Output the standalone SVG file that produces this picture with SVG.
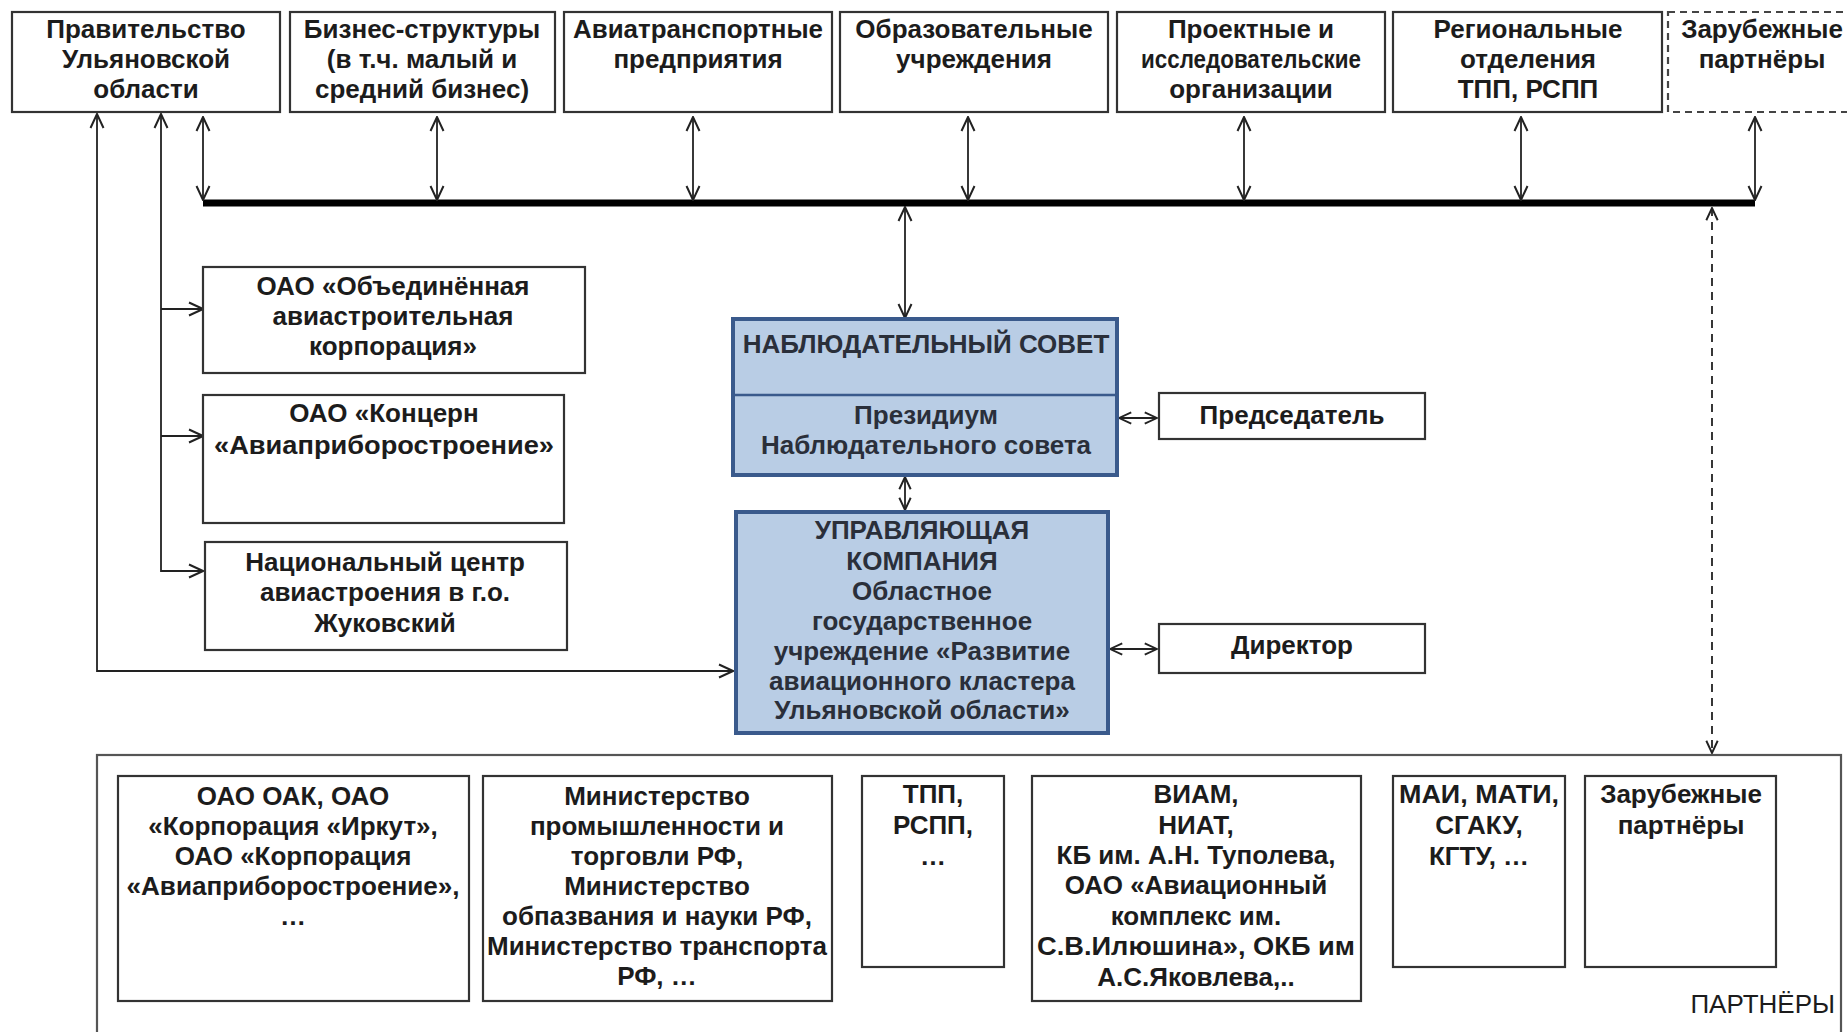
<svg xmlns="http://www.w3.org/2000/svg" width="1847" height="1032" viewBox="0 0 1847 1032">
<defs>
<marker id="ah" viewBox="0 0 16 16" refX="15" refY="8" markerWidth="16" markerHeight="16" markerUnits="userSpaceOnUse" orient="auto-start-reverse">
<path d="M1,1.5 L15,8 L1,14.5" fill="none" stroke="#222" stroke-width="2"/>
</marker>
<marker id="ahs" viewBox="0 0 16 16" refX="15" refY="8" markerWidth="14" markerHeight="14" markerUnits="userSpaceOnUse" orient="auto-start-reverse">
<path d="M1,1.5 L15,8 L1,14.5" fill="none" stroke="#222" stroke-width="2.2"/>
</marker>
</defs>
<style>
text{font-family:"Liberation Sans",Arial,sans-serif;font-weight:bold;font-size:26px;fill:#1c1c1c;text-anchor:middle}
.box{fill:#fff;stroke:#333;stroke-width:2.2}
.dbox{fill:#fff;stroke:#444;stroke-width:2.2;stroke-dasharray:7,5}
.blue{fill:#b9cde5;stroke:#3a5a8c;stroke-width:4}
.bt{fill:#2a2f3a}
.c{fill:none;stroke:#222;stroke-width:1.8}
.bus{fill:none;stroke:#000;stroke-width:7}
.dash{fill:none;stroke:#222;stroke-width:1.8;stroke-dasharray:8,6}
.outer{fill:#fff;stroke:#555;stroke-width:2.2}
</style>
<rect width="1847" height="1032" fill="#fff"/>

<g id="connectors">
<line class="bus" x1="203" y1="203" x2="1755" y2="203"/>
<line class="c" x1="203" y1="117" x2="203" y2="200" marker-start="url(#ah)" marker-end="url(#ah)"/>
<line class="c" x1="437" y1="117" x2="437" y2="200" marker-start="url(#ah)" marker-end="url(#ah)"/>
<line class="c" x1="693" y1="117" x2="693" y2="200" marker-start="url(#ah)" marker-end="url(#ah)"/>
<line class="c" x1="968" y1="117" x2="968" y2="200" marker-start="url(#ah)" marker-end="url(#ah)"/>
<line class="c" x1="1244" y1="117" x2="1244" y2="200" marker-start="url(#ah)" marker-end="url(#ah)"/>
<line class="c" x1="1521" y1="117" x2="1521" y2="200" marker-start="url(#ah)" marker-end="url(#ah)"/>
<line class="c" x1="1755" y1="117" x2="1755" y2="200" marker-start="url(#ah)" marker-end="url(#ah)"/>
<line class="c" x1="905" y1="207" x2="905" y2="318" marker-start="url(#ah)" marker-end="url(#ah)"/>
<polyline class="c" points="161,114 161,571 203,571" marker-start="url(#ah)" marker-end="url(#ah)"/>
<line class="c" x1="161" y1="309" x2="203" y2="309" marker-end="url(#ah)"/>
<line class="c" x1="161" y1="436" x2="203" y2="436" marker-end="url(#ah)"/>
<polyline class="c" points="97,114 97,671 733,671" marker-start="url(#ah)" marker-end="url(#ah)"/>
<line class="c" x1="905" y1="477" x2="905" y2="510" marker-start="url(#ahs)" marker-end="url(#ahs)"/>
<line class="c" x1="1119" y1="418" x2="1157" y2="418" marker-start="url(#ahs)" marker-end="url(#ahs)"/>
<line class="c" x1="1110" y1="649" x2="1157" y2="649" marker-start="url(#ahs)" marker-end="url(#ahs)"/>
<line class="dash" x1="1712" y1="208" x2="1712" y2="753" marker-start="url(#ahs)" marker-end="url(#ahs)"/>
</g>

<g id="top-gov"><rect class="box" x="12" y="12" width="268" height="100"/>
<text x="146" y="38">Правительство</text><text x="146" y="68">Ульяновской</text><text x="146" y="98">области</text></g>
<g id="top-biz"><rect class="box" x="290" y="12" width="265" height="100"/>
<text x="422" y="38">Бизнес-структуры</text><text x="422" y="68">(в т.ч. малый и</text><text x="422" y="98">средний бизнес)</text></g>
<g id="top-avia"><rect class="box" x="564" y="12" width="268" height="100"/>
<text x="698" y="38" textLength="250" lengthAdjust="spacingAndGlyphs">Авиатранспортные</text><text x="698" y="68">предприятия</text></g>
<g id="top-edu"><rect class="box" x="840" y="12" width="268" height="100"/>
<text x="974" y="38">Образовательные</text><text x="974" y="68">учреждения</text></g>
<g id="top-proj"><rect class="box" x="1117" y="12" width="268" height="100"/>
<text x="1251" y="38">Проектные и</text><text x="1251" y="68" textLength="220" lengthAdjust="spacingAndGlyphs">исследовательские</text><text x="1251" y="98">организации</text></g>
<g id="top-reg"><rect class="box" x="1393" y="12" width="269" height="100"/>
<text x="1528" y="38">Региональные</text><text x="1528" y="68">отделения</text><text x="1528" y="98">ТПП, РСПП</text></g>
<g id="top-foreign"><rect class="dbox" x="1668" y="12" width="190" height="100"/>
<text x="1762" y="38">Зарубежные</text><text x="1762" y="68">партнёры</text></g>

<g id="uac"><rect class="box" x="203" y="267" width="382" height="106"/>
<text x="393" y="295">ОАО «Объединённая</text><text x="393" y="325">авиастроительная</text><text x="393" y="355">корпорация»</text></g>
<g id="concern"><rect class="box" x="203" y="395" width="361" height="128"/>
<text x="384" y="422">ОАО «Концерн</text><text x="384" y="454" textLength="340" lengthAdjust="spacingAndGlyphs">«Авиаприборостроение»</text></g>
<g id="natcenter"><rect class="box" x="205" y="542" width="362" height="108"/>
<text x="385" y="571">Национальный центр</text><text x="385" y="601">авиастроения в г.о.</text><text x="385" y="632">Жуковский</text></g>

<g id="supervisory"><rect class="blue" x="733" y="319" width="384" height="156"/>
<line x1="733" y1="395" x2="1117" y2="395" stroke="#3a5a8c" stroke-width="2.5"/>
<text class="bt" x="926" y="353">НАБЛЮДАТЕЛЬНЫЙ СОВЕТ</text>
<text class="bt" x="926" y="424">Президиум</text><text class="bt" x="926" y="454">Наблюдательного совета</text></g>

<g id="management"><rect class="blue" x="736" y="512" width="372" height="221"/>
<text class="bt" x="922" y="539">УПРАВЛЯЮЩАЯ</text><text class="bt" x="922" y="570">КОМПАНИЯ</text>
<text class="bt" x="922" y="600">Областное</text><text class="bt" x="922" y="630">государственное</text>
<text class="bt" x="922" y="660">учреждение «Развитие</text><text class="bt" x="922" y="690">авиационного кластера</text>
<text class="bt" x="922" y="719">Ульяновской области»</text></g>

<g id="chairman"><rect class="box" x="1159" y="393" width="266" height="46"/>
<text x="1292" y="424">Председатель</text></g>
<g id="director"><rect class="box" x="1159" y="624" width="266" height="49"/>
<text x="1292" y="654">Директор</text></g>

<g id="partners"><rect class="outer" x="97" y="755" width="1744" height="290"/>
<text x="1835" y="1013" style="text-anchor:end;font-weight:normal">ПАРТНЁРЫ</text>
<g id="p1"><rect class="box" x="118" y="776" width="351" height="225"/>
<text x="293" y="805">ОАО ОАК, ОАО</text><text x="293" y="835">«Корпорация «Иркут»,</text><text x="293" y="865">ОАО «Корпорация</text><text x="293" y="895" textLength="333" lengthAdjust="spacingAndGlyphs">«Авиаприборостроение»,</text><text x="293" y="925">…</text></g>
<g id="p2"><rect class="box" x="483" y="776" width="349" height="225"/>
<text x="657" y="805">Министерство</text><text x="657" y="835">промышленности и</text><text x="657" y="865">торговли РФ,</text><text x="657" y="895">Министерство</text><text x="657" y="925">обпазвания и науки РФ,</text><text x="657" y="955" textLength="340" lengthAdjust="spacingAndGlyphs">Министерство транспорта</text><text x="657" y="985">РФ, …</text></g>
<g id="p3"><rect class="box" x="862" y="776" width="142" height="191"/>
<text x="933" y="803">ТПП,</text><text x="933" y="834">РСПП,</text><text x="933" y="865">…</text></g>
<g id="p4"><rect class="box" x="1032" y="776" width="329" height="225"/>
<text x="1196" y="803">ВИАМ,</text><text x="1196" y="834">НИАТ,</text><text x="1196" y="864">КБ им. А.Н. Туполева,</text><text x="1196" y="894">ОАО «Авиационный</text><text x="1196" y="925">комплекс им.</text><text x="1196" y="955" textLength="318" lengthAdjust="spacingAndGlyphs">С.В.Илюшина», ОКБ им</text><text x="1196" y="986">А.С.Яковлева,..</text></g>
<g id="p5"><rect class="box" x="1393" y="776" width="172" height="191"/>
<text x="1479" y="803" textLength="160" lengthAdjust="spacingAndGlyphs">МАИ, МАТИ,</text><text x="1479" y="834">СГАКУ,</text><text x="1479" y="865">КГТУ, …</text></g>
<g id="p6"><rect class="box" x="1585" y="776" width="191" height="191"/>
<text x="1681" y="803">Зарубежные</text><text x="1681" y="834">партнёры</text></g>
</g>
</svg>
